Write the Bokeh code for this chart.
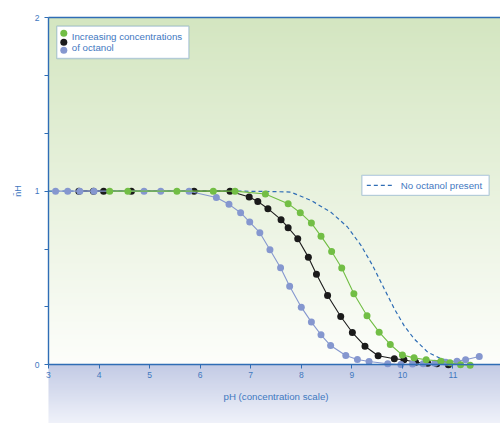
import numpy as np
from bokeh.plotting import figure
from bokeh.models import Range1d, FixedTicker, Label, BoxAnnotation
from bokeh.embed import file_html
from bokeh.resources import INLINE

# ---- data ----
ph_blue = [3.14, 3.38, 3.62, 3.90, 4.89, 5.22, 5.78, 6.32, 6.57, 6.80, 6.98, 7.18,
           7.38, 7.59, 7.77, 8.00, 8.20, 8.39, 8.58, 8.88, 9.11, 9.34, 9.71, 9.97,
           10.20, 10.41, 10.64, 10.86, 11.08, 11.25, 11.52]
nh_blue = [1.0, 1.0, 1.0, 1.0, 1.0, 1.0, 1.0, 0.963, 0.924, 0.876, 0.822, 0.761,
           0.663, 0.559, 0.453, 0.332, 0.246, 0.173, 0.111, 0.054, 0.031, 0.019, 0.006, 0.002,
           0.005, 0.006, 0.009, 0.015, 0.021, 0.029, 0.048]

ph_black = [3.60, 3.89, 4.09, 4.64, 5.88, 6.59, 6.97, 7.14, 7.34, 7.60, 7.74, 7.93,
            8.14, 8.30, 8.52, 8.78, 9.01, 9.26, 9.52, 9.84, 10.03, 10.26, 10.50, 10.68, 10.91]
nh_black = [1.0, 1.0, 1.0, 1.0, 1.0, 1.0, 0.966, 0.941, 0.899, 0.836, 0.790, 0.726,
            0.620, 0.522, 0.399, 0.278, 0.186, 0.107, 0.052, 0.035, 0.029, 0.015, 0.009, 0.006, 0.0]

ph_green = [4.21, 4.57, 5.54, 6.26, 6.69, 7.29, 7.74, 7.98, 8.20, 8.39, 8.60, 8.80,
            9.04, 9.30, 9.54, 9.76, 10.00, 10.23, 10.47, 10.76, 10.94, 11.15, 11.34]
nh_green = [1.0, 1.0, 1.0, 1.0, 1.0, 0.984, 0.928, 0.876, 0.816, 0.741, 0.653, 0.557,
            0.409, 0.282, 0.188, 0.117, 0.056, 0.040, 0.029, 0.021, 0.012, 0.0, -0.003]

ph_none = [3.0, 6.8, 7.40, 7.79, 8.19, 8.58, 8.91, 9.18, 9.41, 9.64, 9.84, 10.03,
           10.23, 10.50, 10.76, 11.02, 11.22]
nh_none = [1.0, 1.0, 0.998, 0.995, 0.947, 0.880, 0.795, 0.688, 0.572, 0.438, 0.323, 0.227,
           0.150, 0.073, 0.035, 0.019, 0.015]

x_ticks = [3, 4, 5, 6, 7, 8, 9, 10, 11, 12]
y_ticks = [0, 1, 2]
y_minor_ticks = [1 / 3, 2 / 3, 4 / 3, 5 / 3]

legend_text_1 = ["Increasing concentrations", "of octanol"]
legend_text_2 = "No octanol present"
x_title = "pH (concentration scale)"
y_title = "n\u0304H"

# ---- styling ----
AXIS = "#2f6db5"
TEXT = "#3f78bf"
GREEN = "#72be45"
BLACK = "#1b1b1b"
BLUE = "#8597cf"
FONT = "Liberation Sans"
TICK_FS = "8.5px"

XA, X1 = 3.0, 11.94        # data area in x
X0 = 2.051                 # visible range start (room for the y-axis texts)
YA, Y1 = 2.0, 2.098        # data top / visible top
Y0 = -0.338

p = figure(width=500, height=423, output_backend="svg", toolbar_location=None,
           x_range=Range1d(X0, X1), y_range=Range1d(Y0, Y1),
           min_border_left=0, min_border_right=0, min_border_top=0,
           min_border_bottom=0)
p.outline_line_color = None
p.grid.visible = False
p.background_fill_color = "white"
p.border_fill_color = "white"

# background gradients
def gradient(c_bottom, c_top, n):
    t = np.linspace(0, 1, n)[:, None]
    cb = np.array(c_bottom, dtype=float)
    ct = np.array(c_top, dtype=float)
    rgb = (cb + (ct - cb) * t).astype(np.uint8)
    img = np.empty((n, 1), dtype=np.uint32)
    v = img.view(dtype=np.uint8).reshape((n, 1, 4))
    v[:, 0, 0] = rgb[:, 0]
    v[:, 0, 1] = rgb[:, 1]
    v[:, 0, 2] = rgb[:, 2]
    v[:, 0, 3] = 255
    return img

green_img = gradient((253, 254, 251), (212, 230, 193), 350)
blue_img = gradient((240, 242, 250), (195, 203, 229), 60)
p.image_rgba(image=[green_img], x=XA, y=0, dw=X1 - XA, dh=YA, level="image")
p.image_rgba(image=[blue_img], x=XA, y=Y0, dw=X1 - XA, dh=-Y0, level="image")

# top border line of the data area
p.segment(x0=[XA], y0=[YA], x1=[X1], y1=[YA], line_color=AXIS, line_width=1.3,
          level="underlay")

# series
p.line(ph_none, nh_none, line_color=AXIS, line_width=1.2, line_dash="4 3")
p.line(ph_black, nh_black, line_color=BLACK, line_width=1.1)
p.scatter(ph_black, nh_black, size=7, fill_color=BLACK, line_color=None)
p.line(ph_blue, nh_blue, line_color=BLUE, line_width=1.1)
p.scatter(ph_blue, nh_blue, size=7, fill_color=BLUE, line_color=None)
p.line(ph_green, nh_green, line_color=GREEN, line_width=1.1)
p.scatter(ph_green, nh_green, size=7, fill_color=GREEN, line_color=None)

# axes (placed inside the frame)
xa = p.xaxis[0]
xa.fixed_location = 0
xa.bounds = (XA, X1)
xa.ticker = FixedTicker(ticks=x_ticks)
xa.minor_tick_line_color = None
xa.axis_line_color = AXIS
xa.axis_line_width = 1.4
xa.major_tick_line_color = AXIS
xa.major_tick_in = 0
xa.major_tick_out = 4
xa.major_label_standoff = 3
xa.major_label_text_color = TEXT
xa.major_label_text_font = FONT
xa.major_label_text_font_size = TICK_FS

ya = p.yaxis[0]
ya.fixed_location = XA
ya.bounds = (0, YA)
ya.ticker = FixedTicker(ticks=y_ticks, minor_ticks=y_minor_ticks)
ya.axis_line_color = AXIS
ya.axis_line_width = 1.4
ya.major_tick_line_color = AXIS
ya.minor_tick_line_color = AXIS
ya.major_tick_in = 0
ya.major_tick_out = 4
ya.minor_tick_in = 0
ya.minor_tick_out = 4
ya.major_label_standoff = 5
ya.major_label_text_color = TEXT
ya.major_label_text_font = FONT
ya.major_label_text_font_size = TICK_FS
ya.axis_label = y_title
ya.axis_label_text_color = TEXT
ya.axis_label_text_font = FONT
ya.axis_label_text_font_style = "normal"
ya.axis_label_text_font_size = "9px"
ya.axis_label_standoff = 9

p.add_layout(Label(x=7.5, y=-0.181, text=x_title, text_align="center",
                   text_baseline="middle", text_color=TEXT, text_font=FONT,
                   text_font_size="9.7px"))

# legends (box, sample marks, text)
p.add_layout(BoxAnnotation(left=3.165, right=5.776, bottom=1.764, top=1.950,
                           fill_color="white", fill_alpha=1.0,
                           line_color=AXIS, line_width=1.3, level="annotation"))
p.add_layout(BoxAnnotation(left=9.199, right=11.714, bottom=0.976, top=1.091,
                           fill_color="white", fill_alpha=1.0,
                           line_color=AXIS, line_width=1.3, level="annotation"))
leg_x = [3.303, 3.303, 3.303]
leg_y = [1.910, 1.858, 1.812]
p.scatter(leg_x, leg_y, size=7, fill_color=[GREEN, BLACK, BLUE], line_color=None,
          level="overlay")
for txt, yy in zip(legend_text_1, [1.888, 1.825]):
    p.add_layout(Label(x=3.46, y=yy, text=txt, text_baseline="middle",
                       text_color=TEXT, text_font=FONT, text_font_size="9.7px",
                       level="overlay"))
p.line([9.296, 9.85], [1.033, 1.033], line_color=AXIS, line_width=1.2,
       line_dash="4 3", level="overlay")
p.add_layout(Label(x=9.968, y=1.033, text=legend_text_2, text_baseline="middle",
                   text_color=TEXT, text_font=FONT, text_font_size="9.7px",
                   level="overlay"))

open("out.html", "w").write(file_html(p, INLINE))
